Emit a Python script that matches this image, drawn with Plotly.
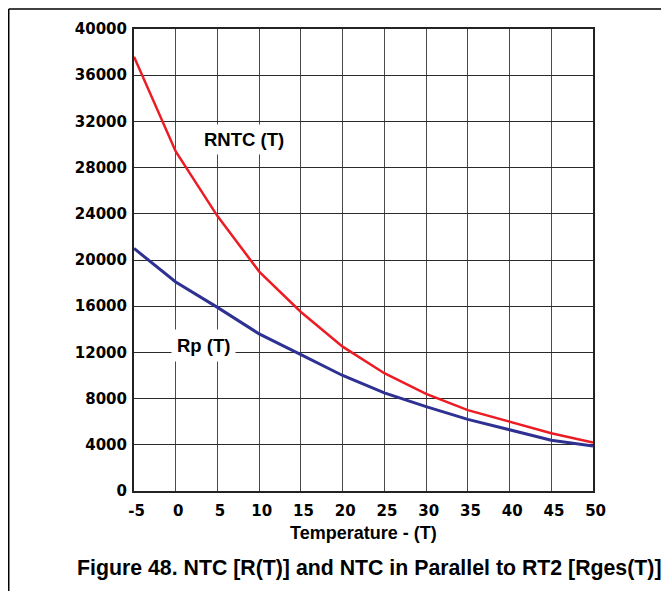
import plotly.graph_objects as go

temperature = [-5, 0, 5, 10, 15, 20, 25, 30, 35, 40, 45, 50]
rntc = [37600, 29400, 23800, 19000, 15500, 12500, 10200, 8400, 7000, 6000, 5000, 4200]
rp = [21000, 18100, 15900, 13600, 11800, 10000, 8500, 7300, 6200, 5300, 4400, 3900]
x_ticks = [-5, 0, 5, 10, 15, 20, 25, 30, 35, 40, 45, 50]
y_ticks = [0, 4000, 8000, 12000, 16000, 20000, 24000, 28000, 32000, 36000, 40000]

ARIAL = "Arial, Liberation Sans, Helvetica, sans-serif"
TICKF = "DejaVu Sans, Verdana, sans-serif"

fig = go.Figure()
fig.add_trace(go.Scatter(x=temperature, y=rp, mode="lines",
                         line=dict(color="#2e3192", width=3), name="Rp (T)"))
fig.add_trace(go.Scatter(x=temperature, y=rntc, mode="lines",
                         line=dict(color="#ec1c24", width=2.5), name="RNTC (T)"))

fig.update_layout(
    width=669, height=591,
    margin=dict(l=126, r=84, t=21, b=108),
    paper_bgcolor="white", plot_bgcolor="white",
    showlegend=False,
    font=dict(family=ARIAL, color="black", size=13),
    xaxis=dict(range=[-5, 50], tickvals=x_ticks,
               ticktext=["\u00a0" + str(v) for v in x_ticks],
               showgrid=True, gridcolor="#4a4a4a", gridwidth=1,
               showline=True, linecolor="#222", linewidth=2, mirror=True,
               ticks="", zeroline=False, ticklabelstandoff=5,
               tickfont=dict(family=TICKF, size=15, weight="bold", color="black")),
    yaxis=dict(range=[0, 40000], tickvals=y_ticks, ticktext=[str(v) for v in y_ticks],
               showgrid=True, gridcolor="#2a2a2a", gridwidth=1,
               showline=True, linecolor="#222", linewidth=2, mirror=True,
               ticks="", zeroline=False, ticklabelstandoff=2,
               tickfont=dict(family=TICKF, size=15, weight="bold", color="black")),
)

fig.add_annotation(x=8.24, y=30400, text="RNTC (T)", showarrow=False,
                   font=dict(family=ARIAL, size=18.5, weight="bold", color="black"),
                   bgcolor="white", borderpad=4)
fig.add_annotation(x=3.35, y=12600, text="Rp (T)", showarrow=False,
                   font=dict(family=ARIAL, size=18.5, weight="bold", color="black"),
                   bgcolor="white", borderpad=5)
fig.add_annotation(x=0.5, xref="paper", y=-0.0906, yref="paper", text="Temperature - (T)",
                   showarrow=False, xanchor="center", yanchor="middle",
                   font=dict(family=ARIAL, size=18, weight="bold", color="black"))
fig.add_annotation(x=0.514, xref="paper", y=-0.166, yref="paper",
                   text="Figure 48. NTC [R(T)] and NTC in Parallel to RT2 [Rges(T)]",
                   showarrow=False, xanchor="center", yanchor="middle",
                   font=dict(family=ARIAL, size=21.3, weight="bold", color="black"))

# outer frame (left and top edges)
fig.add_shape(type="line", xref="paper", yref="paper", x0=-0.2729, x1=-0.2729,
              y0=1.0433, y1=-0.3, line=dict(color="black", width=1.5))
fig.add_shape(type="line", xref="paper", yref="paper", x0=-0.2729, x1=1.3,
              y0=1.0433, y1=1.0433, line=dict(color="black", width=1.5))

fig.write_html("out.html")
